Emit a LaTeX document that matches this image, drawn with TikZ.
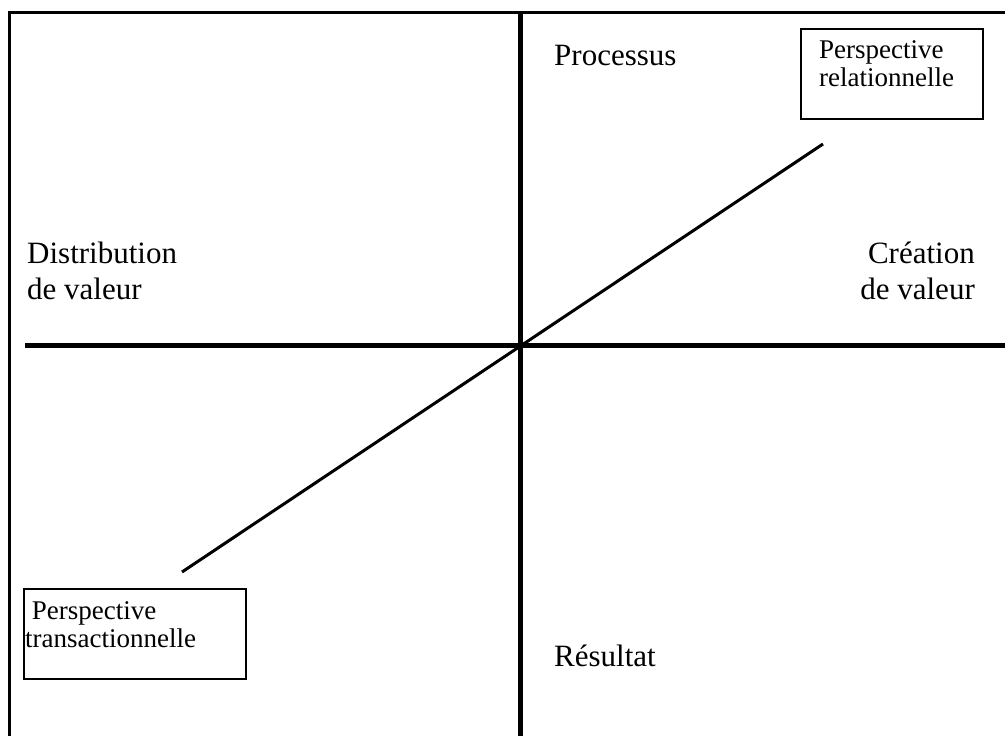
\documentclass[tikz,border=0pt]{standalone}
\usepackage{fontspec}
\setmainfont{Liberation Serif}
\usetikzlibrary{positioning, calc}

\begin{document}
\begin{tikzpicture}[x=1pt, y=-1pt,
	axis/.style={line width=4.5pt},
	frame/.style={line width=3pt},
	persp/.style={line width=2.5pt},
	lbl/.style={inner sep=0pt, font=\fontsize{31}{36}\selectfont},
	ptxt/.style={inner sep=0pt, align=left, font=\fontsize{27}{28.5}\selectfont}]
	\useasboundingbox (0, 0) rectangle (1005, 736);
	% frame and axes
	\draw[frame] (1005, 12.5) -| (9.5, 736);
	\draw[axis] (520.5, 12.5) -- (520.5, 736);
	\draw[axis] (25, 345.5) -- (1005, 345.5);
	% labels
	\node[lbl, anchor=base west] (proc) at (554, 65) {Processus};
	\node[lbl, anchor=base west] (res) at (554, 666) {Résultat};
	\node[lbl, anchor=north west, align=left] (dist) at (27, 242) {Distribution\\de valeur};
	\node[lbl, anchor=north east, align=right] (crea) at (975, 242) {Création\\de valeur};
	% perspectives
	\draw[persp] (801, 29) rectangle (983, 119);
	\node[ptxt, anchor=north west] (rel) at (819, 40) {Perspective\\relationnelle};
	\draw[persp] (24, 589) rectangle (246, 679);
	\node[ptxt, anchor=north west] (trans) at (25, 601) {\ Perspective\\transactionnelle};
	\coordinate (relEnd) at (823, 144);
	\coordinate (transEnd) at (182, 572);
	\draw[line width=3pt] (transEnd) -- (relEnd);
\end{tikzpicture}
\end{document}
